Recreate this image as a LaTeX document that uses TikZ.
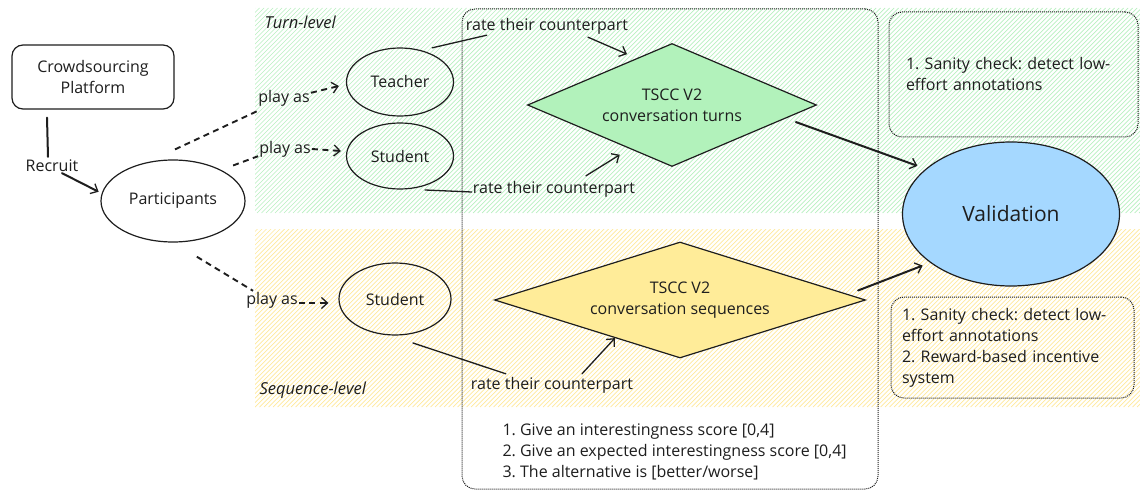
\documentclass[tikz,border=0pt]{standalone}
\usepackage{fontspec}
\setmainfont{Open Sans}
\usetikzlibrary{shapes.geometric,arrows.meta,calc}
\frenchspacing
\definecolor{ink}{HTML}{1E1E1E}
\definecolor{hatchgreen}{HTML}{B8F0C0}
\definecolor{hatchyellow}{HTML}{FFE99A}
\definecolor{dgreen}{HTML}{B2F2BB}
\definecolor{dyellow}{HTML}{FFEC99}
\definecolor{vblue}{HTML}{A5D8FF}
\begin{document}
\begin{tikzpicture}[x=1pt,y=-1pt,
  every node/.style={text=ink, font=\fontsize{16}{21}\selectfont},
  ell/.style={ellipse, draw=ink, line width=1.2pt, inner sep=0pt},
  roundbox/.style={draw=ink, line width=1.2pt, rounded corners=11pt, align=center, inner sep=0pt},
  dotbox/.style={draw=ink, densely dotted, line width=1pt, rounded corners=13pt, inner sep=0pt},
  dia/.style={diamond, draw=ink, line width=1.2pt, inner sep=0pt, align=center},
  lbl/.style={inner sep=1pt},
  hand/.style={font=\fontsize{16.5}{20}\selectfont\itshape},
  conn/.style={draw=ink, line width=1.3pt, line cap=round},
  thickconn/.style={draw=ink, line width=2pt, line cap=round},
  tip/.style={-{Straight Barb[length=6pt,width=11pt,line width=1.3pt]}},
  dashconn/.style={draw=ink, line width=1.9pt, dash pattern=on 6pt off 4.5pt},
  hatchline/.style={line width=0.7pt},
]
\useasboundingbox (0,0) rectangle (1140,492);
\fill[white] (0,0) rectangle (1140,492);
% hatched regions
\begin{scope}
  \clip (255,8) rectangle (1140,213);
  \foreach \i in {50,54.5,...,1140} \draw[hatchline, hatchgreen] (\i,213) -- (\i+205,8);
\end{scope}
\begin{scope}
  \clip (255,229) rectangle (1140,407);
  \foreach \i in {75,79.5,...,1140} \draw[hatchline, hatchyellow] (\i,407) -- (\i+178,229);
\end{scope}
\node[hand, anchor=west] (turnlbl) at (261,22) {Turn-level};
\node[hand, anchor=west] (seqlbl) at (256,390) {Sequence-level};

% dotted boxes
\node[dotbox, minimum width=416pt, minimum height=480pt] (mid) at (670,249) {};
\node[dotbox, minimum width=249pt, minimum height=125pt, align=left, text width=215pt, inner xsep=17pt] (chk1) at (1013.5,74.5) {1. Sanity check: detect low-\\effort annotations};
\node[dotbox, minimum width=243pt, minimum height=101pt, align=left, text width=221pt, inner xsep=11pt] (chk2) at (1012.5,347.5) {1. Sanity check: detect low-\\effort annotations\\2. Reward-based incentive\\system};
\node[anchor=west, align=left] (list) at (499,452) {1. Give an interestingness score [0,4]\\2. Give an expected interestingness score [0,4]\\3. The alternative is [better/worse]};

% main nodes
\node[roundbox, minimum width=162pt, minimum height=64pt] (plat) at (93,77) {Crowdsourcing\\Platform};
\node[ell, minimum width=144pt, minimum height=82pt] (part) at (173,201) {Participants};
\node[ell, minimum width=107pt, minimum height=68pt] (teacher) at (400,82) {Teacher};
\node[ell, minimum width=107pt, minimum height=66pt] (studT) at (400,156) {Student};
\node[ell, minimum width=112pt, minimum height=72pt] (studS) at (395,299) {Student};
\node[dia, fill=dgreen, aspect=2.35, minimum width=289pt, minimum height=123pt] (dG) at (672,105) {TSCC V2\\conversation turns};
\node[dia, fill=dyellow, aspect=3.2, minimum width=371pt, minimum height=116pt] (dY) at (680,300) {TSCC V2\\conversation sequences};
\node[ell, fill=vblue, minimum width=217pt, minimum height=144pt, font=\fontsize{21}{25}\selectfont] (val) at (1011,214) {Validation};

% labels
\node[lbl] (recruit) at (52,166) {Recruit};
\node[lbl] (pa1) at (284,98) {play as};
\node[lbl] (pa2) at (285,149) {play as};
\node[lbl] (pa3) at (272,300) {play as};
\node[lbl] (rate1) at (547,26) {rate their counterpart};
\node[lbl] (rate2) at (554,189) {rate their counterpart};
\node[lbl] (rate3) at (552,385) {rate their counterpart};

% connectors
\draw[thickconn] ([xshift=-46pt,yshift=-8pt]plat.south) -- ([xshift=-4pt,yshift=2pt]recruit.north);
\draw[thickconn, tip] ([xshift=10pt]recruit.south) -- ([xshift=-5pt,yshift=-3pt]part.170);

\draw[dashconn] ([xshift=2pt,yshift=10pt]part.north) -- ([yshift=-4pt]pa1.south west);
\draw[dashconn, tip] ([yshift=-4pt]pa1.north east) -- ([xshift=-7pt,yshift=-4pt]teacher.west);
\draw[dashconn] ([xshift=9pt,yshift=6pt]part.30) -- ([yshift=2pt]pa2.south west);
\draw[dashconn, tip] (pa2.east) -- ([xshift=-5pt,yshift=5pt]studT.west);
\draw[dashconn] ([xshift=9pt,yshift=-15pt]part.-70) -- ([xshift=8pt]pa3.north west);
\draw[dashconn, tip] ([yshift=-3pt]pa3.east) -- ([xshift=-10pt,yshift=-4pt]studS.west);

\draw[conn] ([xshift=3pt,yshift=5pt]teacher.45) -- ([xshift=22pt]rate1.south west);
\draw[conn, tip] ([xshift=41pt,yshift=-2pt]rate1.south) -- ($(dG.west)!0.69!(dG.north)+(0,-8)$);
\draw[conn] ([xshift=25pt,yshift=-34pt]studT.center) -- ([yshift=-3pt]rate2.west);
\draw[conn, tip] ([xshift=32pt,yshift=4pt]rate2.north) -- ($(dG.west)!0.64!(dG.south)+(0,10)$);
\draw[conn] ([xshift=18pt,yshift=-44pt]studS.center) -- ([xshift=36pt,yshift=2pt]rate3.north west);
\draw[conn, tip] ([xshift=30pt,yshift=2pt]rate3.north) -- ($(dY.west)!0.65!(dY.south)$);

\draw[thickconn, tip] ($(dG.east)!0.146!(dG.south)+(0,8)$) -- ([xshift=-7pt,yshift=4pt]val.153);
\draw[thickconn, tip] ($(dY.east)!0.043!(dY.north)+(0,-7)$) -- ([xshift=-6pt,yshift=-4pt]val.210);
\end{tikzpicture}
\end{document}
